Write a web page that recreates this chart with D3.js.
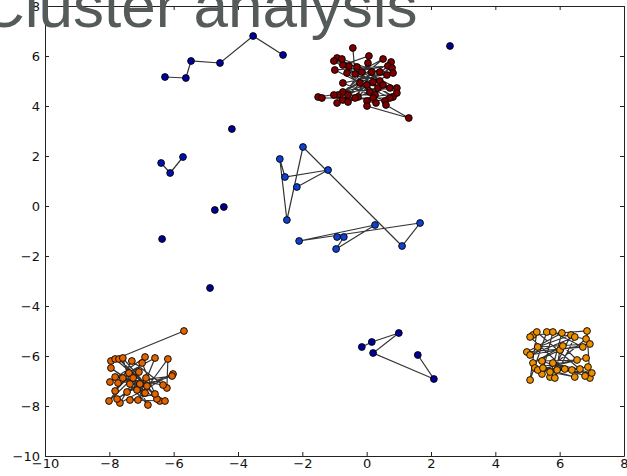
<!DOCTYPE html>
<html>
<head>
<meta charset="utf-8">
<script src="https://cdn.jsdelivr.net/npm/d3@7"></script>
<style>
  body { margin: 0; background: #fff; overflow: hidden; }
  svg { display: block; }
</style>
</head>
<body>
<svg id="chart" width="627" height="476"></svg>
<script>
const title = "Cluster analysis";
const xTicks = [-10, -8, -6, -4, -2, 0, 2, 4, 6, 8];
const yTicks = [-10, -8, -6, -4, -2, 0, 2, 4, 6, 8];

// each group is drawn as a connected path, in this order
const blueTop = [[-6.27,5.16],[-5.62,5.12],[-5.46,5.8],[-4.56,5.72],[-3.53,6.8],[-2.60,6.04]];
const blueSmall = [[-6.39,1.72],[-6.11,1.32],[-5.71,1.96]];
const blueMid = [[-2.17,0.76],[-1.20,1.44],[-2.54,1.16],[-2.70,1.88],[-2.48,-0.56],[-1.98,2.36],
  [1.10,-1.6],[1.66,-0.68],[-2.10,-1.4],[0.26,-0.76],[-0.95,-1.72],[-0.71,-1.24],[-0.92,-1.24]];
const blueLow = [[-0.15,-5.64],[0.16,-5.44],[1.0,-5.08],[0.2,-5.88],[2.09,-6.92],[1.59,-5.96]];
const blueSingles = [[2.59,6.4],[-4.19,3.08],[-4.72,-0.16],[-4.44,-0.04],[-6.36,-1.32],[-4.87,-3.28]];

const red = [[-0.43,6.32],[-0.36,5.28],[0.51,5.88],[-0.74,4.56],[0.94,4.72],[-0.92,5.92],[0.20,4.96],
  [-0.55,5.6],[0.82,4.36],[-1.02,5.8],[0.41,5.36],[-0.89,4.44],[0.76,5.76],[-0.27,4.36],[0.07,6.0],
  [-0.74,5.64],[0.35,4.72],[-1.51,4.36],[-1.39,4.32],[0.72,4.32],[-0.99,5.44],[0.66,5.6],[-0.61,5.32],
  [0.10,4.56],[-0.77,5.88],[0.63,5.24],[-0.15,5.36],[0.94,4.52],[-0.92,4.12],[0.04,5.72],[-0.21,4.92],
  [0.79,5.52],[-1.02,4.44],[0.41,5.0],[-0.30,5.56],[0.26,4.44],[-0.58,4.44],[0.82,5.32],[-0.74,4.92],
  [0.57,4.20],[-0.36,4.32],[0.16,5.36],[-0.74,4.24],[0.72,4.72],[0.01,4.84],[-0.58,4.16],[0.51,4.84],
  [0.20,4.32],[0.29,4.12],[0.01,4.20],[0.01,4.0],[1.31,3.52],[0.60,4.04]];

const orangeLeft = [[-5.68,-5.0],[-7.95,-6.2],[-7.82,-6.12],[-6.83,-7.2],[-7.70,-6.12],[-6.43,-7.8],
  [-7.58,-6.08],[-7.36,-7.12],[-6.89,-6.04],[-7.98,-7.04],[-6.58,-6.08],[-7.11,-7.76],[-6.18,-6.12],
  [-6.21,-7.28],[-7.30,-6.2],[-7.82,-7.4],[-6.98,-6.28],[-6.52,-7.72],[-7.95,-6.48],[-6.89,-7.48],
  [-7.39,-6.68],[-8.01,-7.8],[-7.08,-6.64],[-7.67,-7.88],[-6.02,-6.72],[-7.45,-7.44],[-6.05,-6.8],
  [-7.73,-7.08],[-7.82,-6.84],[-6.33,-7.16],[-7.58,-6.88],[-6.80,-7.96],[-7.26,-6.88],[-7.14,-7.36],
  [-6.86,-6.88],[-7.76,-7.72],[-7.05,-7.12],[-6.58,-7.52],[-7.36,-7.76],[-6.27,-7.8]];

const orangeRight = [[5.17,-5.16],[6.85,-5.0],[6.94,-6.88],[5.29,-5.04],[5.08,-6.96],[5.60,-5.04],
  [6.82,-5.32],[5.45,-6.72],[5.79,-5.04],[6.72,-5.64],[4.98,-5.84],[6.07,-5.08],[5.70,-6.84],
  [6.35,-5.16],[5.32,-5.64],[6.94,-5.52],[5.08,-5.96],[6.47,-5.24],[5.85,-6.88],[6.01,-5.76],
  [5.17,-6.28],[6.10,-5.60],[6.54,-6.16],[5.45,-6.20],[6.79,-6.80],[5.79,-6.28],[7.0,-6.68],
  [5.23,-6.48],[6.82,-6.08],[5.32,-6.56],[6.63,-6.52],[5.48,-6.48],[6.47,-6.84],[5.70,-6.64],
  [6.88,-6.44],[5.92,-6.56],[6.38,-6.56],[6.16,-6.52],[5.08,-5.24]];

const groups = [
  { pts: blueTop, color: "#00009c", line: true },
  { pts: blueSmall, color: "#0010b0", line: true },
  { pts: blueMid, color: "#1040d0", line: true },
  { pts: blueLow, color: "#000098", line: true },
  { pts: blueSingles, color: "#00008c", line: false },
  { pts: red, color: "#7c0000", line: true },
  { pts: orangeLeft, color: "#e06400", line: true },
  { pts: orangeRight, color: "#ec8e00", line: true }
];

const svg = d3.select("#chart");
const margin = { top: 6, right: 3, bottom: 20, left: 45 };
const width = 627, height = 476;

const x = d3.scaleLinear().domain([-10, 8]).range([margin.left, width - margin.right]);
const y = d3.scaleLinear().domain([-10, 8]).range([height - margin.bottom, margin.top]);

const line = d3.line().x(d => x(d[0])).y(d => y(d[1]));

const plot = svg.append("g");
groups.filter(g => g.line).forEach(g => {
  plot.append("path")
    .attr("d", line(g.pts))
    .attr("fill", "none")
    .attr("stroke", "#111")
    .attr("stroke-opacity", 0.85)
    .attr("stroke-width", 1.2);
});
groups.forEach(g => {
  plot.append("g")
    .selectAll("circle")
    .data(g.pts)
    .join("circle")
    .attr("cx", d => x(d[0]))
    .attr("cy", d => y(d[1]))
    .attr("r", 3.4)
    .attr("fill", g.color)
    .attr("stroke", "#000")
    .attr("stroke-width", 0.9);
});

// frame, ticks pointing inwards on all four sides
const fontStyle = g => g.selectAll("text")
  .attr("font-family", "DejaVu Sans, sans-serif")
  .attr("font-size", 13)
  .attr("fill", "#111");

svg.append("g")
  .attr("transform", `translate(0,${height - margin.bottom})`)
  .call(d3.axisBottom(x).tickValues(xTicks).tickSize(-4).tickPadding(3).tickSizeOuter(0))
  .call(fontStyle);
svg.append("g")
  .attr("transform", `translate(0,${margin.top})`)
  .call(d3.axisTop(x).tickValues(xTicks).tickSize(-4).tickFormat("").tickSizeOuter(0));
svg.append("g")
  .attr("transform", `translate(${margin.left},0)`)
  .call(d3.axisLeft(y).tickValues(yTicks).tickSize(-4).tickPadding(5).tickSizeOuter(0))
  .call(fontStyle);
svg.append("g")
  .attr("transform", `translate(${width - margin.right},0)`)
  .call(d3.axisRight(y).tickValues(yTicks).tickSize(-4).tickFormat("").tickSizeOuter(0));

svg.selectAll(".domain, .tick line").attr("stroke", "#222").attr("stroke-width", 1);

svg.append("text")
  .attr("x", -20)
  .attr("y", 27)
  .attr("font-family", "Liberation Sans, Arial, sans-serif")
  .attr("font-size", 62)
  .attr("fill", "#555a5a")
  .text(title);
</script>
</body>
</html>
